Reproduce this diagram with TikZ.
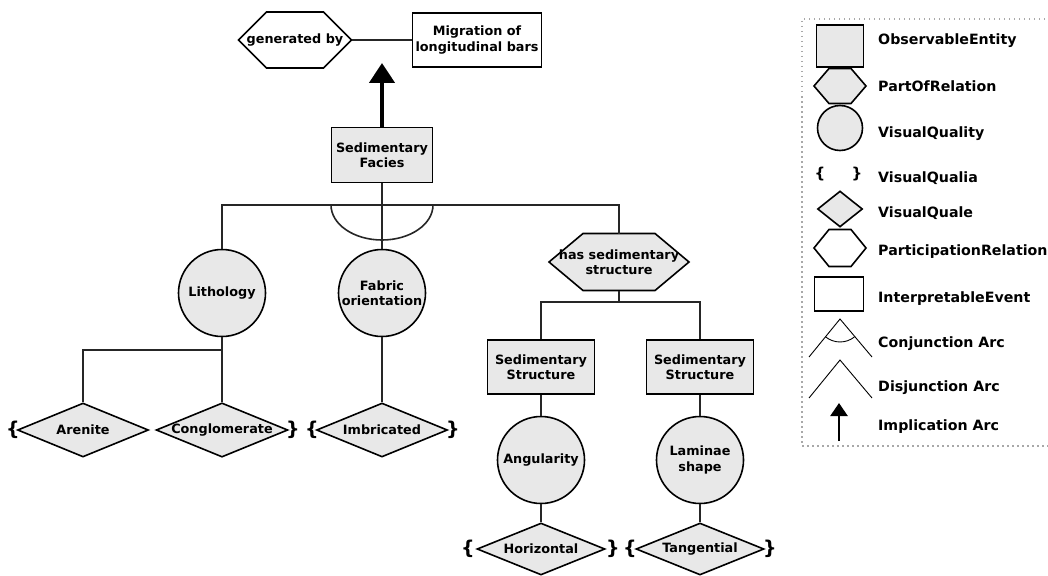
\documentclass[tikz,border=0pt]{standalone}
\usepackage{fontspec}
\setmainfont{DejaVu Sans}
\usepackage{tikz}
\usetikzlibrary{arrows.meta,positioning,shapes.geometric,backgrounds}
\definecolor{entgray}{HTML}{E8E8E8}
\definecolor{dotgray}{HTML}{A8A8A8}
\tikzset{%
	entity/.style   = {draw, rectangle, fill=entgray, line width=1.6pt, minimum width=101pt, minimum height=55pt, align=center, inner sep=1pt}, % ObservableEntity
	event/.style    = {draw, rectangle, fill=white, line width=1.6pt, minimum width=129pt, minimum height=54pt, align=center, inner sep=1pt}, % InterpretableEvent
	hexbox/.style   = {rectangle, outer sep=0pt, align=center, inner sep=1pt}, % hexagon frame, drawn behind
	hexline/.style  = {draw, line width=1.6pt, line join=miter},
	quality/.style  = {draw, circle, fill=entgray, line width=1.6pt, minimum size=87pt, align=center, inner sep=0pt}, % VisualQuality
	quale/.style    = {draw, diamond, aspect=2.43, fill=entgray, line width=1.6pt, minimum width=131pt, minimum height=54pt, inner sep=0pt}, % VisualQuale
	qualia/.style   = {font=\fontsize{19}{19}\selectfont\bfseries, inner sep=0pt}, % VisualQualia
	link/.style     = {line width=1.6pt, black!85},
	implies/.style  = {->, line width=4.5pt},
	legbox/.style   = {dotgray, line width=1.5pt, dash pattern=on 1.5pt off 3.5pt},
	legtext/.style  = {anchor=base west, font=\fontsize{14.2}{16}\selectfont\bfseries, inner sep=0pt},
}
% hexagon round a hexbox node: node, chamfer, fill
\newcommand{\hexround}[3]{%
	\draw [hexline, fill=#3] (#1.west) -- ([xshift=#2]#1.north west) -- ([xshift=-#2]#1.north east)
		-- (#1.east) -- ([xshift=-#2]#1.south east) -- ([xshift=#2]#1.south west) -- cycle;}

\begin{document}
\begin{tikzpicture}[x=1pt,y=-1pt,node distance=100pt,font=\fontsize{12.8}{15.5}\selectfont\bfseries,>={Triangle[width=25pt,length=20pt]}]
	\useasboundingbox (0,0) rectangle (1048,575);

	% top of the tree
	\node [entity] (fac) at (382,155) {Sedimentary\\Facies};
	\node [hexbox,minimum width=113pt,minimum height=56pt] (gen) at (295,40) {generated by};
	\node [event] (mig) [right of=gen,node distance=182pt] {Migration of\\longitudinal bars};
	\coordinate (imp) at (382,63);

	% qualities
	\node [quality] (lith) at (222,293) {Lithology};
	\node [quality] (fab) [right of=lith,node distance=160pt] {Fabric\\orientation};
	\node [hexbox,minimum width=140pt,minimum height=57pt] (hss) at (619,262) {has sedimentary\\structure};

	% quales
	\node [quale] (aren) at (83,430) {Arenite};
	\node [quale] (cong) [right of=aren,node distance=139pt] {Conglomerate};
	\node [quale] (imb) [right of=cong,node distance=160pt] {Imbricated};
	\node [qualia] (b1) [left of=aren,node distance=70pt] {\{};
	\node [qualia] (b2) [right of=cong,node distance=71pt] {\}};
	\node [qualia] (b3) [left of=imb,node distance=70pt] {\{};
	\node [qualia] (b4) [right of=imb,node distance=71pt] {\}};

	% sedimentary structures
	\node [entity,minimum width=107pt,minimum height=54pt] (ss1) at (541,367) {Sedimentary\\Structure};
	\node [entity,minimum width=107pt,minimum height=54pt] (ss2) [right of=ss1,node distance=159pt] {Sedimentary\\Structure};
	\node [quality] (ang) [below of=ss1,node distance=93pt] {Angularity};
	\node [quality] (lam) [below of=ss2,node distance=93pt] {Laminae\\shape};
	\node [quale,minimum width=128pt,minimum height=52pt] (hor) [below of=ang,node distance=89pt] {Horizontal};
	\node [quale,minimum width=128pt,minimum height=52pt] (tan) [below of=lam,node distance=89pt] {Tangential};
	\node [qualia] (b5) [left of=hor,node distance=73pt] {\{};
	\node [qualia] (b6) [right of=hor,node distance=72pt] {\}};
	\node [qualia] (b7) [left of=tan,node distance=70pt] {\{};
	\node [qualia] (b8) [right of=tan,node distance=70pt] {\}};

	\coordinate (bar) at (0,205);
	\coordinate (lbar) at (0,350);
	\coordinate (sbar) at (0,302);

	\draw [link] (gen) -- (mig);
	\draw [implies] (fac) -- (imp);
	\draw [link] (fac) -- (fab);
	\draw [link] (lith) -- (lith |- bar) -- (hss |- bar) -- (hss);
	\draw [link] (fab |- bar) ++(-51,0) arc [start angle=180, end angle=360, x radius=51pt, y radius=35pt];
	\draw [link] (lith) -- (cong);
	\draw [link] (lith |- lbar) -| (aren);
	\draw [link] (fab) -- (imb);
	\draw [link] (hss) -- (hss |- sbar);
	\draw [link] (ss1) -- (ss1 |- sbar) -- (ss2 |- sbar) -- (ss2);
	\draw [link] (ss1) -- (ang) -- (hor);
	\draw [link] (ss2) -- (lam) -- (tan);

	% legend
	\draw [legbox] (1060,19) -- (802,19) -- (802,446) -- (1060,446);
	\node [entity,minimum width=47pt,minimum height=42pt] (kObs) at (840,46) {};
	\node [hexbox,minimum width=52pt,minimum height=35pt] (kPart) at (840,86) {};
	\node [quality,minimum size=45pt] (kQual) at (840,128) {};
	\node [qualia,font=\fontsize{15}{15}\selectfont\bfseries] (kBl) at (820,174) {\{};
	\node [qualia,font=\fontsize{15}{15}\selectfont\bfseries] (kBr) at (857,174) {\}};
	\node [quale,aspect=1.25,minimum width=45pt,minimum height=36pt] (kQuale) at (840,209) {};
	\node [hexbox,minimum width=52pt,minimum height=37pt] (kPartic) at (840,248) {};
	\node [event,minimum width=49pt,minimum height=34pt] (kEv) at (839,294) {};
	\coordinate (kConj) at (840,319);
	\coordinate (kDisj) at (840,360);
	\draw [line width=0.9pt] (809,357) -- (kConj) -- (872,357);
	\draw [line width=0.9pt] (kConj) ++(-14.5,17.8) arc [start angle=230.8, end angle=309.2, radius=23pt];
	\draw [line width=0.9pt] (809,398) -- (kDisj) -- (872,398);
	\coordinate (kImpS) at (839,441);
	\coordinate (kImpE) at (839,403);
	\draw [-{Triangle[width=17pt,length=13pt]}, line width=2.5pt] (kImpS) -- (kImpE);

	\node [legtext] (tObs) at (878,45) {ObservableEntity};
	\node [legtext] (tPart) at (878,92) {PartOfRelation};
	\node [legtext] (tQual) at (878,137) {VisualQuality};
	\node [legtext] (tQualia) at (878,182) {VisualQualia};
	\node [legtext] (tQuale) at (878,217) {VisualQuale};
	\node [legtext] (tPartic) at (878,255) {ParticipationRelation};
	\node [legtext] (tEv) at (878,302) {InterpretableEvent};
	\node [legtext] (tConj) at (878,347) {Conjunction Arc};
	\node [legtext] (tDisj) at (878,391) {Disjunction Arc};
	\node [legtext] (tImp) at (878,430) {Implication Arc};

	% hexagons behind their text
	\begin{scope}[on background layer]
		\hexround{gen}{28pt}{white}
		\hexround{hss}{34pt}{entgray}
		\hexround{kPart}{15pt}{entgray}
		\hexround{kPartic}{15pt}{white}
	\end{scope}
\end{tikzpicture}
\end{document}
